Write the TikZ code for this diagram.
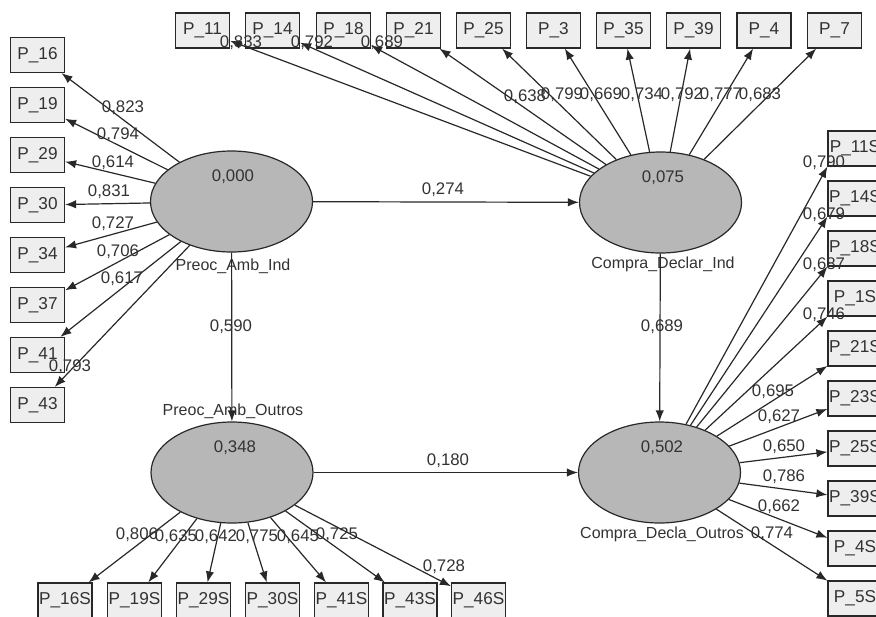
\documentclass[tikz,border=0pt]{standalone}
\usepackage{fontspec}
\setmainfont{Liberation Sans}
\usepackage{tikz}
\usetikzlibrary{shapes,arrows.meta}
\definecolor{boxgrey}{RGB}{238,238,238}
\definecolor{latentgrey}{RGB}{183,183,183}
\definecolor{linegrey}{RGB}{40,40,40}
\definecolor{textgrey}{RGB}{50,50,50}

\begin{document}
\begin{tikzpicture}[
    x=0.5pt, y=-0.5pt,
    ind/.style={rectangle, draw=linegrey, fill=boxgrey, line width=0.6pt,
                minimum width=27pt, minimum height=17.5pt, inner sep=0pt,
                font=\fontsize{8.6}{10}\selectfont, text=textgrey},
    latent/.style={ellipse, draw=linegrey, fill=latentgrey, line width=0.6pt,
                   minimum width=81pt, minimum height=50.5pt, inner sep=0pt},
    val/.style={font=\fontsize{8}{10}\selectfont, text=textgrey, inner sep=1pt},
    load/.style={font=\fontsize{8.4}{10}\selectfont, text=textgrey, inner sep=0pt},
    arrow/.style={-{Latex[length=5.5pt,width=4.2pt]}, line width=0.6pt, linegrey}
]
\useasboundingbox (0,0) rectangle (876,616);

% latent variables
\node[latent] (pai) at (231.5,201.5) {};
\node[latent] (cdi) at (660.5,202.5) {};
\node[latent] (pao) at (232,472.5)   {};
\node[latent] (cdo) at (659.5,472.5) {};
\node[load] (vpai) at (233,177) {0,000};
\node[load] (vcdi) at (663,178) {0,075};
\node[load] (vpao) at (235,448) {0,348};
\node[load] (vcdo) at (662,448) {0,502};
\node[val] (npai) at (233,266) {Preoc\_Amb\_Ind};
\node[val] (ncdi) at (663,264) {Compra\_Declar\_Ind};
\node[val] (npao) at (233,411) {Preoc\_Amb\_Outros};
\node[val] (ncdo) at (662,534) {Compra\_Decla\_Outros};

% inner model
\draw[arrow] (pai) -- (cdi) node[load] (c1) at (443,190) {0,274};
\draw[arrow] (pai) -- (pao) node[load] (c2) at (231,327) {0,590};
\draw[arrow] (cdi) -- (cdo) node[load] (c3) at (662,327) {0,689};
\draw[arrow] (pao) -- (cdo) node[load] (c4) at (448,461) {0,180};

% Preoc_Amb_Ind indicators
\node[ind] (p16) at (37.5,55)  {P\_16};
\node[ind] (p19) at (37.5,105) {P\_19};
\node[ind] (p29) at (37.5,155) {P\_29};
\node[ind] (p30) at (37.5,205) {P\_30};
\node[ind] (p34) at (37.5,255) {P\_34};
\node[ind] (p37) at (37.5,305) {P\_37};
\node[ind] (p41) at (37.5,355) {P\_41};
\node[ind] (p43) at (37.5,405) {P\_43};
\draw[arrow] (pai) -- (p16) node[load] (l16) at (123,108) {0,823};
\draw[arrow] (pai) -- (p19) node[load] (l19) at (118,135) {0,794};
\draw[arrow] (pai) -- (p29) node[load] (l29) at (113,163) {0,614};
\draw[arrow] (pai) -- (p30) node[load] (l30) at (109,192) {0,831};
\draw[arrow] (pai) -- (p34) node[load] (l34) at (113,224) {0,727};
\draw[arrow] (pai) -- (p37) node[load] (l37) at (118,252) {0,706};
\draw[arrow] (pai) -- (p41) node[load] (l41) at (122,279) {0,617};
\draw[arrow] (pai) -- (p43) node[load] (l43) at (70,367)  {0,793};

% Compra_Declar_Ind indicators
\node[ind] (p11) at (202.5,30.5) {P\_11};
\node[ind] (p14) at (272.5,30.5) {P\_14};
\node[ind] (p18) at (343.5,30.5) {P\_18};
\node[ind] (p21) at (413.5,30.5) {P\_21};
\node[ind] (p25) at (483.5,30.5) {P\_25};
\node[ind] (p3)  at (553.5,30.5) {P\_3};
\node[ind] (p35) at (623.5,30.5) {P\_35};
\node[ind] (p39) at (693.5,30.5) {P\_39};
\node[ind] (p4)  at (764,30.5)   {P\_4};
\node[ind] (p7)  at (834.5,30.5) {P\_7};
\draw[arrow] (cdi) -- (p11) node[load] (l11) at (241,43) {0,833};
\draw[arrow] (cdi) -- (p14) node[load] (l14) at (312,43) {0,792};
\draw[arrow] (cdi) -- (p18) node[load] (l18) at (382,43) {0,689};
\draw[arrow] (cdi) -- (p21) node[load] (l21) at (525,97) {0,638};
\draw[arrow] (cdi) -- (p25) node[load] (l25) at (562,95) {0,799};
\draw[arrow] (cdi) -- (p3)  node[load] (l3)  at (601,95) {0,669};
\draw[arrow] (cdi) -- (p35) node[load] (l35) at (642,95) {0,734};
\draw[arrow] (cdi) -- (p39) node[load] (l39) at (682,95) {0,792};
\draw[arrow] (cdi) -- (p4)  node[load] (l4)  at (721,95) {0,777};
\draw[arrow] (cdi) -- (p7)  node[load] (l7)  at (760,95) {0,683};

% Preoc_Amb_Outros indicators
\node[ind] (p16s) at (65,600.5)    {P\_16S};
\node[ind] (p19s) at (134.5,600.5) {P\_19S};
\node[ind] (p29s) at (203.5,600.5) {P\_29S};
\node[ind] (p30s) at (272.5,600.5) {P\_30S};
\node[ind] (p41s) at (341.5,600.5) {P\_41S};
\node[ind] (p43s) at (410,600.5)   {P\_43S};
\node[ind] (p46s) at (478.5,600.5) {P\_46S};
\draw[arrow] (pao) -- (p16s) node[load] (l16s) at (137,535) {0,806};
\draw[arrow] (pao) -- (p19s) node[load] (l19s) at (176,537) {0,635};
\draw[arrow] (pao) -- (p29s) node[load] (l29s) at (216,537) {0,642};
\draw[arrow] (pao) -- (p30s) node[load] (l30s) at (257,537) {0,775};
\draw[arrow] (pao) -- (p41s) node[load] (l41s) at (298,537) {0,645};
\draw[arrow] (pao) -- (p43s) node[load] (l43s) at (337,535) {0,725};
\draw[arrow] (pao) -- (p46s) node[load] (l46s) at (444,567) {0,728};

% Compra_Decla_Outros indicators
\node[ind] (p11s) at (855,148.5) {P\_11S};
\node[ind] (p14s) at (855,198.5) {P\_14S};
\node[ind] (p18s) at (855,248.5) {P\_18S};
\node[ind] (p1s)  at (855,298.5) {P\_1S};
\node[ind] (p21s) at (855,348.5) {P\_21S};
\node[ind] (p23s) at (855,398.5) {P\_23S};
\node[ind] (p25s) at (855,448.5) {P\_25S};
\node[ind] (p39s) at (855,498.5) {P\_39S};
\node[ind] (p4s)  at (855,548.5) {P\_4S};
\node[ind] (p5s)  at (855,598.5) {P\_5S};
\draw[arrow] (cdo) -- (p11s.south west) node[load] (l11s) at (824,163) {0,790};
\draw[arrow] (cdo) -- (p14s.south west) node[load] (l14s) at (824,215) {0,679};
\draw[arrow] (cdo) -- (p18s.south west) node[load] (l18s) at (824,265) {0,687};
\draw[arrow] (cdo) -- (p1s.south west)  node[load] (l1s)  at (824,315) {0,746};
\draw[arrow] (cdo) -- (p21s) node[load] (l21s) at (773,392) {0,695};
\draw[arrow] (cdo) -- (p23s) node[load] (l23s) at (779,417) {0,627};
\draw[arrow] (cdo) -- (p25s) node[load] (l25s) at (784,447) {0,650};
\draw[arrow] (cdo) -- (p39s) node[load] (l39s) at (784,477) {0,786};
\draw[arrow] (cdo) -- (p4s)  node[load] (l4s)  at (779,507) {0,662};
\draw[arrow] (cdo) -- (p5s)  node[load] (l5s)  at (772,534) {0,774};
\end{tikzpicture}
\end{document}
